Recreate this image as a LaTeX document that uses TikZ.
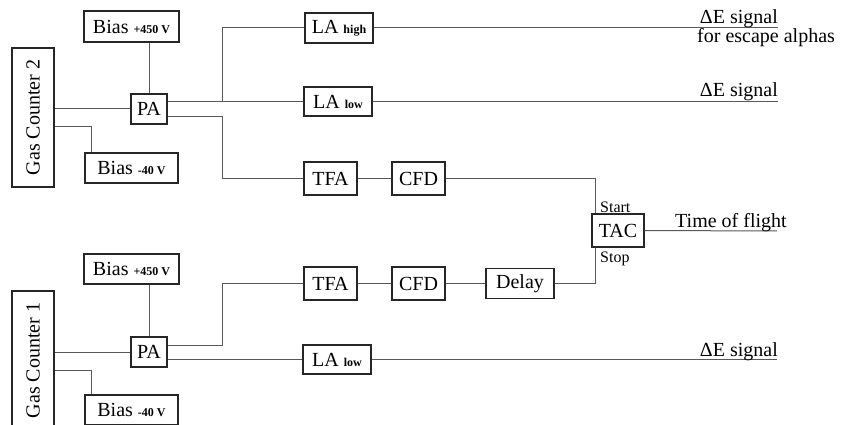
\documentclass[tikz,border=0pt]{standalone}
\usepackage{fontspec}
\setmainfont{Liberation Serif}
\usetikzlibrary{positioning, calc}

\tikzset{
    blk/.style={draw=black!85, line width=1.1pt, fill=white, inner sep=0pt,
        font=\fontsize{20}{24}\selectfont},
    wire/.style={draw=black!65, line width=1pt},
    lbl/.style={inner sep=0pt, font=\fontsize{20}{24}\selectfont},
    tag/.style={inner sep=0pt, font=\fontsize{16}{18}\selectfont}
}
\newcommand{\sm}[1]{{\fontsize{12}{14}\selectfont\bfseries #1}}

\begin{document}
\begin{tikzpicture}[x=1pt, y=-1pt]

    \useasboundingbox (0,0) rectangle (841,425);
    \clip (0,0) rectangle (841,425);

    % --- Gas Counter 2 (upper chain) ---
    \node[blk, minimum width=42pt, minimum height=139pt] (gcB) at (33,117.5) {\rotatebox{90}{Gas Counter 2}};
    \node[blk, minimum width=95pt, minimum height=31pt] (biasHiB) at (131.5,26.5) {Bias \sm{+450 V}};
    \node[blk, minimum width=36pt, minimum height=30pt] (paB) at (149,109) {PA};
    \node[blk, minimum width=93pt, minimum height=30pt] (biasLoB) at (131.5,168) {Bias \sm{-40 V}};
    \node[blk, minimum width=68pt, minimum height=30pt] (laHigh) at (339,28) {LA \sm{high}};
    \node[blk, minimum width=68pt, minimum height=29pt] (laLowB) at (338,101.5) {LA \sm{low}};
    \node[blk, minimum width=53pt, minimum height=33pt] (tfaB) at (330.5,178.5) {TFA};
    \node[blk, minimum width=53pt, minimum height=33pt] (cfdB) at (418.5,178.5) {CFD};

    % --- TAC ---
    \node[blk, minimum width=52pt, minimum height=33pt] (tac) at (618,230.5) {TAC};
    \node[tag, anchor=base west] (start) at (600,212) {Start};
    \node[tag, anchor=base west] (stop) at (600,262) {Stop};

    % --- Gas Counter 1 (lower chain) ---
    \node[blk, minimum width=42pt, minimum height=139pt] (gcA) at (33,360.5) {\rotatebox{90}{Gas Counter 1}};
    \node[blk, minimum width=95pt, minimum height=30pt] (biasHiA) at (131.5,269) {Bias \sm{+450 V}};
    \node[blk, minimum width=36pt, minimum height=30pt] (paA) at (149,352) {PA};
    \node[blk, minimum width=93pt, minimum height=30pt] (biasLoA) at (131.5,410) {Bias \sm{-40 V}};
    \node[blk, minimum width=53pt, minimum height=33pt] (tfaA) at (330.5,283.5) {TFA};
    \node[blk, minimum width=53pt, minimum height=33pt] (cfdA) at (418.5,283.5) {CFD};
    \node[blk, minimum width=68pt, minimum height=30pt] (delay) at (520,283.5) {Delay};
    \node[blk, minimum width=68pt, minimum height=29pt] (laLowA) at (337,359.5) {LA \sm{low}};

    % --- Output ends ---
    \coordinate (outHigh) at (778,28);
    \coordinate (outLowB) at (778,101.5);
    \coordinate (outTof) at (777,231);
    \coordinate (outLowA) at (777,359.5);

    % --- Wiring, upper chain ---
    \draw[wire] (paB.west) -- (paB.west -| gcB.east);
    \draw[wire] ([yshift=-18pt]paB.west -| gcB.east) -| ([xshift=7pt]biasLoB.north west);
    \draw[wire] (biasHiB.south -| paB.north) -- (paB.north);
    \draw[wire] ([yshift=7.5pt]paB.east) -- (laLowB.west);
    \draw[wire] ([yshift=7.5pt]paB.east) ++(55,0) |- (laHigh.west);
    \draw[wire] ([yshift=-8pt]paB.east) -- ++(55,0) |- (tfaB.west);
    \draw[wire] (tfaB) -- (cfdB);
    \draw[wire] (cfdB.east) -| ([xshift=4pt]tac.north west);
    \draw[wire] (laHigh.east) -- (outHigh);
    \draw[wire] (laLowB.east) -- (outLowB);
    \draw[wire] (tac.east) -- (outTof);

    % --- Wiring, lower chain ---
    \draw[wire] (paA.west) -- (paA.west -| gcA.east);
    \draw[wire] ([yshift=-18pt]paA.west -| gcA.east) -| ([xshift=7pt]biasLoA.north west);
    \draw[wire] (biasHiA.south -| paA.north) -- (paA.north);
    \draw[wire] ([yshift=7pt]paA.east) -- ++(55,0) |- (tfaA.west);
    \draw[wire] ([yshift=-7.5pt]paA.east) -- (laLowA.west);
    \draw[wire] (tfaA) -- (cfdA);
    \draw[wire] (cfdA) -- (delay);
    \draw[wire] (delay.east) -| ([xshift=4pt]tac.south west);
    \draw[wire] (laLowA.east) -- (outLowA);

    % --- Output labels ---
    \node[lbl, anchor=base east] (sigHigh) at (778,24) {ΔE signal};
    \node[lbl, anchor=base west] (escape) at (697,43) {for escape alphas};
    \node[lbl, anchor=base east] (sigLowB) at (778,96.5) {ΔE signal};
    \node[lbl, anchor=base west] (tof) at (675,227) {Time of flight};
    \node[lbl, anchor=base east] (sigLowA) at (778,356) {ΔE signal};

\end{tikzpicture}
\end{document}
